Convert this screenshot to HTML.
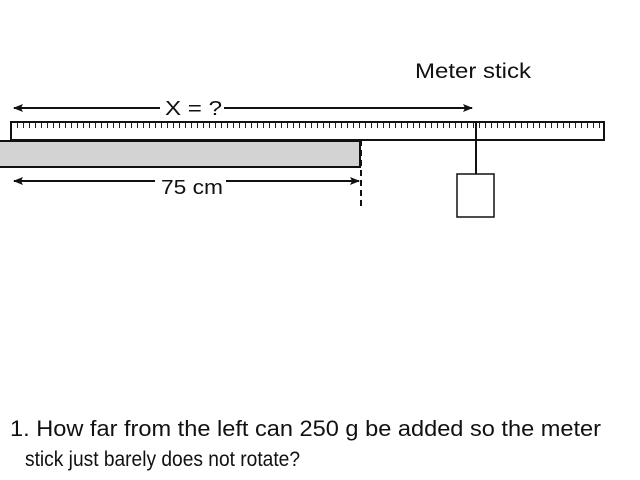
<!DOCTYPE html>
<html><head><meta charset="utf-8"><style>
html,body{margin:0;padding:0;background:#fff;width:640px;height:480px;overflow:hidden}
svg{display:block}
text{font-family:"Liberation Sans",sans-serif;fill:#111}
</style></head><body>
<svg width="640" height="480" viewBox="0 0 640 480">
<defs>
<marker id="ah" markerWidth="10" markerHeight="8" refX="9" refY="4" orient="auto" markerUnits="userSpaceOnUse">
<path d="M0,0 L10,4 L0,8 L2,4 Z" fill="#111"/>
</marker>
</defs>
<text x="415" y="78" font-size="21" textLength="116" lengthAdjust="spacingAndGlyphs">Meter stick</text>
<line x1="160" y1="108" x2="14" y2="108" stroke="#111" stroke-width="2" marker-end="url(#ah)"/>
<line x1="224" y1="108" x2="472" y2="108" stroke="#111" stroke-width="2" marker-end="url(#ah)"/>
<text x="165" y="115" font-size="20" textLength="57" lengthAdjust="spacingAndGlyphs">X = ?</text>
<rect x="-2" y="141" width="362" height="26" fill="#d3d3d3" stroke="#111" stroke-width="2"/>
<rect x="11" y="122" width="593" height="18" fill="#fff" stroke="#111" stroke-width="2"/>
<line x1="17" y1="125.5" x2="603" y2="125.5" stroke="#222" stroke-width="5" stroke-dasharray="1,5"/>
<line x1="361" y1="140" x2="361" y2="208" stroke="#111" stroke-width="2" stroke-dasharray="6,4"/>
<line x1="155" y1="181" x2="14" y2="181" stroke="#111" stroke-width="2" marker-end="url(#ah)"/>
<line x1="226" y1="181" x2="359" y2="181" stroke="#111" stroke-width="2" marker-end="url(#ah)"/>
<text x="161" y="194" font-size="20" textLength="62" lengthAdjust="spacingAndGlyphs">75 cm</text>
<line x1="476" y1="122" x2="476" y2="174" stroke="#111" stroke-width="2"/>
<rect x="457" y="174" width="37" height="43" fill="#fff" stroke="#111" stroke-width="1.5"/>
<text x="10" y="436" font-size="22" textLength="591" lengthAdjust="spacingAndGlyphs">1. How far from the left can 250 g be added so the meter</text>
<text x="25" y="466" font-size="21" textLength="275" lengthAdjust="spacingAndGlyphs">stick just barely does not rotate?</text>
</svg>
</body></html>
